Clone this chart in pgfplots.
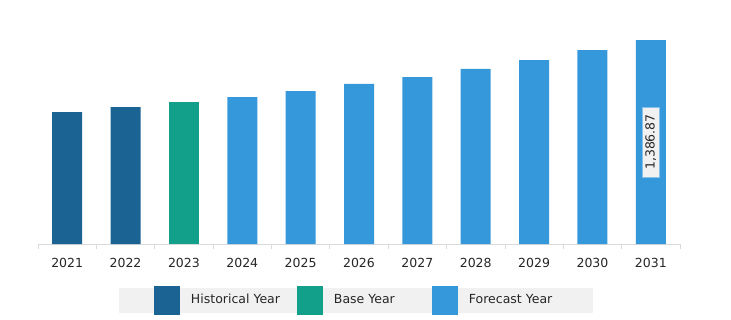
\documentclass[border=0pt]{standalone}
\usepackage{pgfplots}
\pgfplotsset{compat=1.18}
\usepackage{fontspec}
\setmainfont{DejaVu Sans}
\definecolor{hist}{HTML}{1A6392}
\definecolor{base}{HTML}{12A08A}
\definecolor{fore}{HTML}{3498DB}
\definecolor{axgray}{HTML}{D9D9D9}
\definecolor{legbg}{HTML}{F1F1F1}
\begin{document}
\begin{tikzpicture}
\useasboundingbox (-38pt,-75pt) rectangle (693pt,244pt);
\begin{axis}[
  scale only axis, width=642pt, height=220.6pt,
  xmin=-0.5, xmax=10.5, ymin=0, ymax=1500,
  enlargelimits=false,
  ybar, bar width=30pt, bar shift=0pt,
  axis x line=bottom, axis y line=none,
  x axis line style={draw=axgray, line width=0.8pt, -},
  xtick={0,...,10},
  xticklabels={2021,2022,2023,2024,2025,2026,2027,2028,2029,2030,2031},
  major tick length=0pt,
  minor xtick={-0.5,0.5,...,10.5},
  minor tick length=5pt,
  tick align=outside,
  minor tick style={draw=axgray, line width=0.8pt},
  xticklabel style={font=\fontsize{12.5}{14}\selectfont, inner sep=0pt, yshift=-13.7pt, text=black!85},
  /pgf/number format/assume math mode=true,
  legend columns=3,
  legend style={
    at={(rel axis cs:0.4953,0)}, anchor=center, yshift=-56.5pt,
    fill=legbg, draw=none, inner xsep=35pt, inner ysep=6.5pt,
    font=\fontsize{12.5}{14}\selectfont, text=black!85,
    nodes={inner sep=0pt, text height=9pt, text depth=3pt},
    /tikz/every odd column/.style={column sep=11pt},
    /tikz/every even column/.style={column sep=0pt},
  },
  legend image code/.code={
    \fill[#1, overlay] (0pt,-14.5pt) rectangle (26pt,14.5pt);
    \path (0pt,-5pt) rectangle (26pt,5pt);
  },
]
\addplot[fill=hist, draw=none] coordinates {(0,897) (1,931)};
\addlegendentry{\makebox[106pt][l]{Historical Year}}
\addplot[fill=base, draw=none] coordinates {(2,965)};
\addlegendentry{\makebox[98pt][l]{Base Year}}
\addplot[fill=fore, draw=none] coordinates {(3,999) (4,1040) (5,1088) (6,1135) (7,1190) (8,1251) (9,1319) (10,1386.87)};
\addlegendentry{\makebox[89pt][l]{Forecast Year}}
\addplot[draw=none, fill=none, forget plot,
  nodes near coords, point meta=explicit symbolic,
  every node near coord/.style={rotate=90, anchor=center, fill=legbg, draw=fore!60, line width=0.4pt,
    inner xsep=7pt, inner ysep=3pt, font=\fontsize{12.5}{14}\selectfont, text=black!85}]
  coordinates {(10,693.4) [{1,386.87}]};
\end{axis}
\end{tikzpicture}
\end{document}
